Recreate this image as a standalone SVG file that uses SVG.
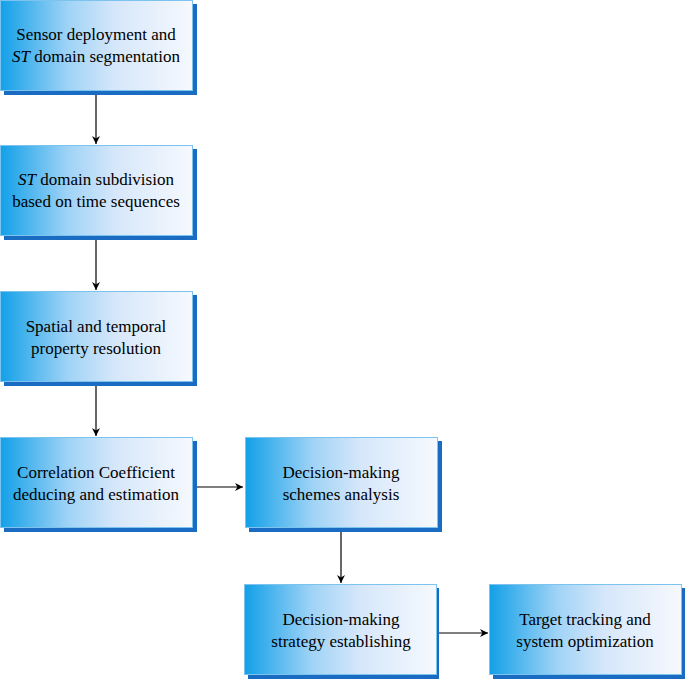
<svg xmlns="http://www.w3.org/2000/svg" width="685" height="680" viewBox="0 0 685 680">
<defs>
<linearGradient id="g" x1="0" y1="0" x2="1" y2="0">
<stop offset="0" stop-color="#12a0e8"/>
<stop offset="0.35" stop-color="#9fd3f6"/>
<stop offset="0.6" stop-color="#d6e7fa"/>
<stop offset="1" stop-color="#f6f9fe"/>
</linearGradient>
<marker id="ah" viewBox="0 0 10 10" refX="10" refY="5" markerWidth="8" markerHeight="8" markerUnits="userSpaceOnUse" orient="auto">
<path d="M0,0 L10,5 L0,10 L3,5 z" fill="#000"/>
</marker>
</defs>
<style>
.sh{fill:#1a6cc2}
.bx{fill:url(#g);stroke:#7cc3ee;stroke-width:1}
.t{font-family:'Liberation Serif','Times New Roman',serif;font-size:17px;fill:#000;text-anchor:middle}
.c{stroke:#000;stroke-width:1.2;fill:none;marker-end:url(#ah)}
</style>
<rect width="685" height="680" fill="#fff"/>
<g id="connectors">
<line class="c" x1="96" y1="95" x2="96" y2="144"/>
<line class="c" x1="96" y1="240" x2="96" y2="290"/>
<line class="c" x1="96" y1="386" x2="96" y2="436"/>
<line class="c" x1="192" y1="487" x2="243" y2="487"/>
<line class="c" x1="341" y1="531" x2="341" y2="583"/>
<line class="c" x1="437" y1="633" x2="488" y2="633"/>
</g>
<g id="n1">
<rect class="sh" x="4" y="4" width="193" height="91"/>
<rect class="bx" x="0.5" y="0.5" width="192" height="90"/>
<text class="t" x="96" y="40">Sensor deployment and</text>
<text class="t" x="96" y="62"><tspan font-style="italic">ST</tspan> domain segmentation</text>
</g>
<g id="n2">
<rect class="sh" x="4" y="149" width="193" height="91"/>
<rect class="bx" x="0.5" y="145.5" width="192" height="90"/>
<text class="t" x="96" y="185"><tspan font-style="italic">ST</tspan> domain subdivision</text>
<text class="t" x="96" y="207">based on time sequences</text>
</g>
<g id="n3">
<rect class="sh" x="4" y="295" width="193" height="91"/>
<rect class="bx" x="0.5" y="291.5" width="192" height="90"/>
<text class="t" x="96" y="332">Spatial and temporal</text>
<text class="t" x="96" y="354">property resolution</text>
</g>
<g id="n4">
<rect class="sh" x="4" y="441" width="193" height="91"/>
<rect class="bx" x="0.5" y="437.5" width="192" height="90"/>
<text class="t" x="96" y="478">Correlation Coefficient</text>
<text class="t" x="96" y="500">deducing and estimation</text>
</g>
<g id="n5">
<rect class="sh" x="249" y="441" width="193" height="91"/>
<rect class="bx" x="245.5" y="437.5" width="192" height="90"/>
<text class="t" x="341" y="478">Decision-making</text>
<text class="t" x="341" y="500">schemes analysis</text>
</g>
<g id="n6">
<rect class="sh" x="248" y="588" width="191" height="91"/>
<rect class="bx" x="244.5" y="584.5" width="192" height="90"/>
<text class="t" x="341" y="625">Decision-making</text>
<text class="t" x="341" y="647">strategy establishing</text>
</g>
<g id="n7">
<rect class="sh" x="493" y="588" width="192" height="91"/>
<rect class="bx" x="489.5" y="584.5" width="192" height="90"/>
<text class="t" x="585" y="625">Target tracking and</text>
<text class="t" x="585" y="647">system optimization</text>
</g>
</svg>
